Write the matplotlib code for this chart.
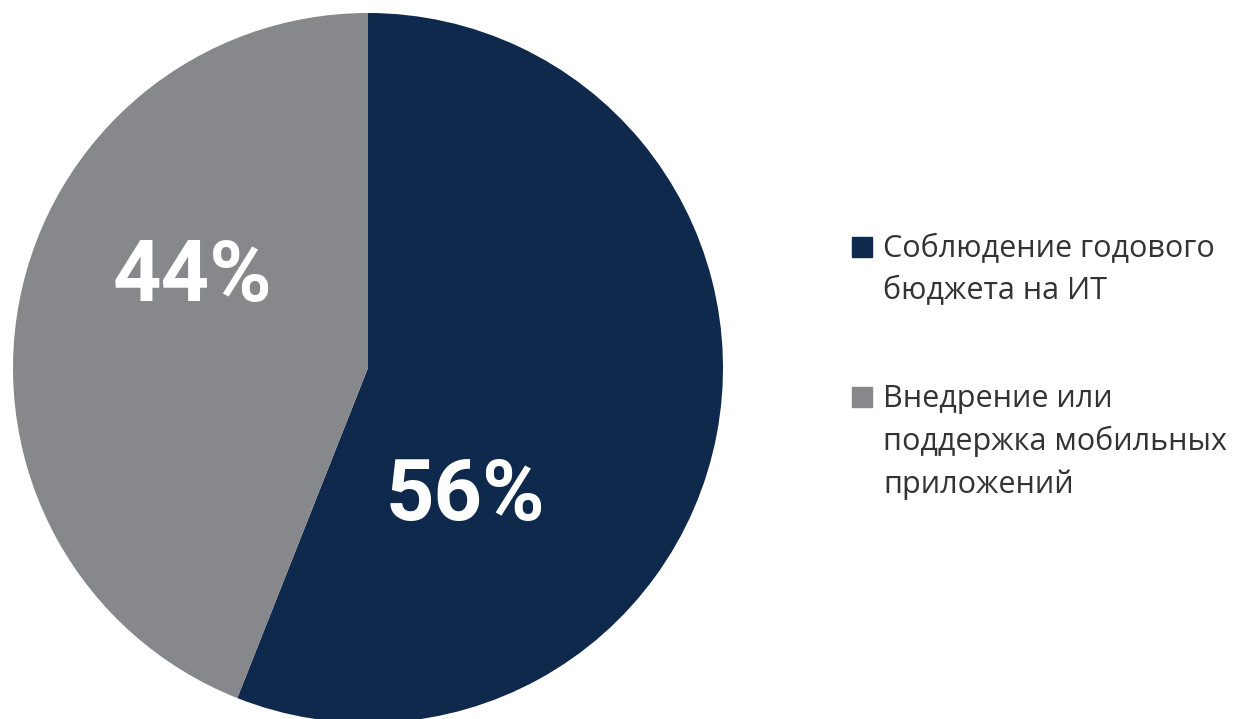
import matplotlib.pyplot as plt
from matplotlib.patches import Rectangle

labels = ["Соблюдение годового\nбюджета на ИТ", "Внедрение или\nподдержка мобильных\nприложений"]
values = [56, 44]
colors = ["#0e294b", "#87888c"]
pct_pos = [(0.273, -0.363), (-0.493, 0.254)]

W, H = 1238, 719
fig = plt.figure(figsize=(W / 100, H / 100), dpi=100)

# pie axes: centre (368, 368) px, radius 355 px
r = 355
ax = fig.add_axes([(368 - r) / W, (H - 368 - r) / H, 2 * r / W, 2 * r / H])
ax.pie(values, colors=colors, startangle=90, counterclock=False, radius=1,
       wedgeprops=dict(linewidth=0))
ax.set_xlim(-1, 1)
ax.set_ylim(-1, 1)
ax.axis("off")

for v, (x, y) in zip(values, pct_pos):
    ax.text(x, y, f"{v}%", color="white", fontsize=61, fontweight="bold",
            family="Roboto", ha="center", va="center")

# legend drawn by hand
tops = [237, 387]
for lab, c, top in zip(labels, colors, tops):
    fig.patches.append(Rectangle((852 / W, 1 - (top + 20) / H), 20 / W, 20 / H,
                                 transform=fig.transFigure, color=c))
    fig.text(883 / W, 1 - (top - 3) / H, lab, fontsize=22, color="#333333",
             family="Open Sans", va="top", ha="left", linespacing=1.5)

fig.savefig("out.png", dpi=100)
